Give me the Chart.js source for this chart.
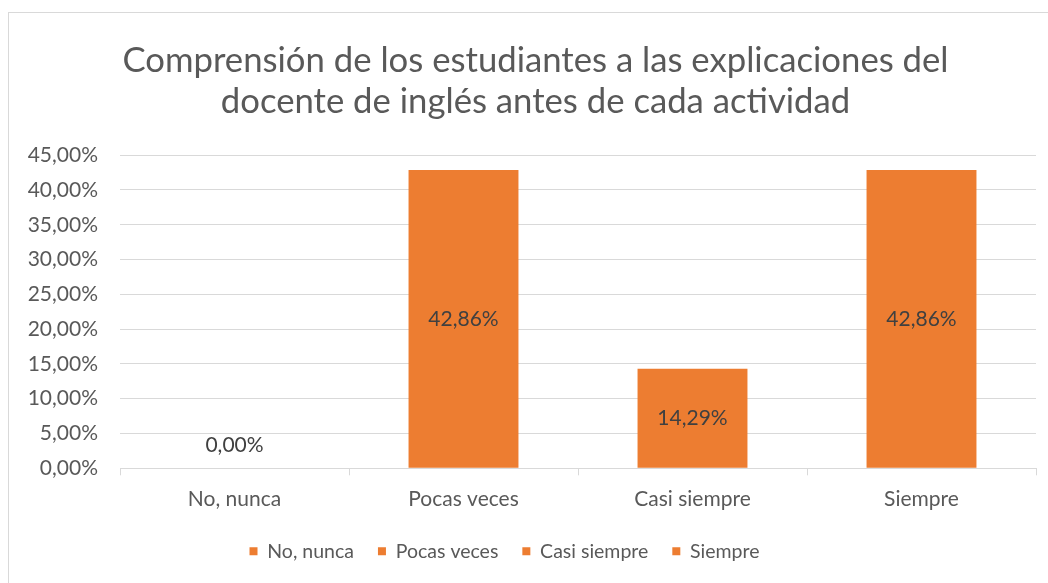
<!DOCTYPE html>
<html>
<head>
<meta charset="utf-8">
<script src="https://cdn.jsdelivr.net/npm/chart.js@4"></script>
<style>
  html, body { margin: 0; padding: 0; background: #fff; overflow: hidden; }
  #frame {
    position: absolute; left: 8px; top: 12px; width: 1045px; height: 580px;
    border: 1px solid #d9d9d9; box-sizing: border-box;
  }
  #wrap { position: absolute; left: 0; top: 0; width: 1041px; height: 578px; }
</style>
</head>
<body>
<div id="frame"><div id="wrap"><canvas id="barChart"></canvas></div></div>
<script>
const categories = ['No, nunca', 'Pocas veces', 'Casi siempre', 'Siempre'];
const percentages = [0, 42.86, 14.29, 42.86];
const titleLines = ['Comprensión de los estudiantes a las explicaciones del', 'docente de inglés antes de cada actividad'];
const barColor = '#ED7D31';
const textColor = '#595959';

const fmt = (v) => v.toFixed(2).replace('.', ',') + '%';

// draws the value labels in the middle of each bar
const valueLabels = {
  id: 'valueLabels',
  afterDatasetsDraw(chart) {
    const ctx = chart.ctx;
    const meta = chart.getDatasetMeta(0);
    ctx.save();
    ctx.font = '21px Lato';
    ctx.fillStyle = '#404040';
    ctx.textAlign = 'center';
    ctx.textBaseline = 'middle';
    meta.data.forEach((bar, i) => {
      const v = percentages[i];
      const y = v === 0 ? bar.base - 23 : (bar.y + bar.base) / 2;
      ctx.fillText(fmt(v), bar.x, y);
    });
    ctx.restore();
  }
};

// nudge title right and legend left, like the excel layout
const nudge = {
  id: 'nudge',
  afterLayout(chart) {
    chart.titleBlock.left += 13;
    chart.titleBlock.right += 13;
    chart.legend.left -= 18;
    chart.legend.right -= 18;
  }
};

new Chart(document.getElementById('barChart').getContext('2d'), {
  type: 'bar',
  data: {
    labels: categories,
    datasets: [{
      label: 'Serie',
      data: percentages,
      backgroundColor: barColor,
      categoryPercentage: 1,
      barPercentage: 0.48
    }]
  },
  options: {
    responsive: true,
    maintainAspectRatio: false,
    animation: false,
    layout: { padding: { left: 0, right: 14, top: 0, bottom: 20 } },
    plugins: {
      title: {
        display: true,
        text: titleLines,
        color: textColor,
        font: { family: 'Lato', size: 34.7, weight: 'normal', lineHeight: 1.17 },
        padding: { top: 28, bottom: 33 }
      },
      legend: {
        position: 'bottom',
        labels: {
          color: textColor,
          font: { family: 'Lato', size: 19.5 },
          boxWidth: 8,
          boxHeight: 8,
          padding: 24,
          generateLabels: () => categories.map((c) => ({
            text: c, fillStyle: barColor, strokeStyle: barColor, lineWidth: 0, fontColor: textColor
          }))
        },
        onClick: null
      },
      tooltip: { enabled: false }
    },
    scales: {
      x: {
        grid: { offset: true, drawOnChartArea: false, color: '#d9d9d9', tickLength: 7 },
        border: { color: '#d9d9d9' },
        ticks: { color: textColor, font: { family: 'Lato', size: 21 }, padding: 11 },
        afterFit: (scale) => { scale.height -= 5; }
      },
      y: {
        min: 0,
        max: 45,
        afterFit: (scale) => { scale.width = 111; },
        grid: { color: '#d9d9d9', drawTicks: false },
        border: { display: false },
        ticks: {
          stepSize: 5,
          color: textColor,
          font: { family: 'Lato', size: 21 },
          padding: 22,
          callback: (v) => fmt(v)
        }
      }
    }
  },
  plugins: [valueLabels, nudge]
});
</script>
</body>
</html>
